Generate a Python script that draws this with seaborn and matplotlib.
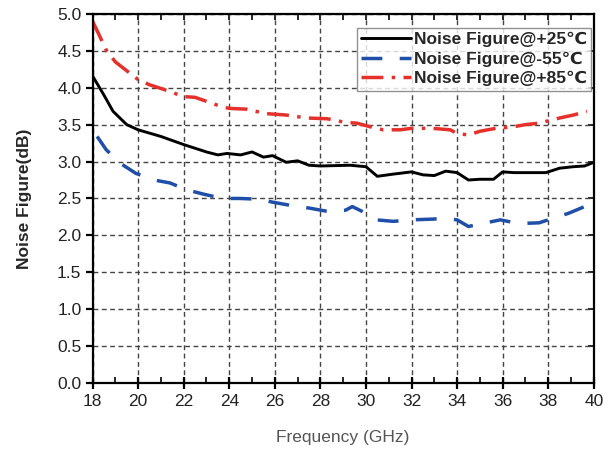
import numpy as np
import pandas as pd
import matplotlib
matplotlib.use("Agg")
import matplotlib.pyplot as plt
from matplotlib.ticker import MultipleLocator, FormatStrFormatter
import seaborn as sns

# Measured noise figure vs frequency at three temperatures
freq_25 = [18.0, 18.5, 18.9, 19.5, 20.0, 21.0, 22.0, 23.0, 23.5, 23.9, 24.5, 25.0,
           25.5, 25.9, 26.5, 27.0, 27.5, 28.0, 29.3, 30.0, 30.5, 31.2, 32.0, 32.5,
           33.0, 33.5, 34.0, 34.5, 35.0, 35.6, 36.0, 36.5, 37.0, 37.9, 38.5, 39.1,
           39.6, 40.0]
nf_25 = [4.16, 3.90, 3.68, 3.50, 3.43, 3.34, 3.23, 3.13, 3.09, 3.11, 3.09, 3.13,
         3.06, 3.08, 2.99, 3.01, 2.95, 2.94, 2.95, 2.93, 2.80, 2.83, 2.86, 2.82,
         2.81, 2.87, 2.85, 2.75, 2.76, 2.76, 2.86, 2.85, 2.85, 2.85, 2.91, 2.93,
         2.94, 2.99]

freq_m55 = [18.2, 18.6, 19.2, 19.9, 20.7, 21.4, 22.1, 22.85, 23.7, 24.45, 25.3,
            25.9, 26.8, 27.5, 28.4, 29.1, 29.4, 30.0, 30.45, 31.2, 32.0, 32.9,
            33.5, 34.0, 34.5, 35.1, 35.9, 36.7, 37.6, 38.2, 38.9, 39.6, 40.0]
nf_m55 = [3.34, 3.16, 2.98, 2.84, 2.75, 2.71, 2.62, 2.56, 2.50, 2.50, 2.49,
          2.45, 2.40, 2.37, 2.32, 2.34, 2.39, 2.30, 2.21, 2.19, 2.21, 2.22,
          2.23, 2.21, 2.12, 2.16, 2.21, 2.16, 2.17, 2.23, 2.30, 2.39, 2.44]

freq_85 = [18.0, 18.25, 18.6, 19.0, 20.0, 20.5, 21.1, 22.0, 22.5, 23.6, 24.0,
           24.75, 25.6, 26.5, 27.4, 28.3, 29.1, 29.6, 30.2, 30.75, 31.5, 32.0,
           32.9, 33.7, 34.0, 34.5, 35.0, 35.7, 36.45, 37.0, 37.6, 38.5, 39.1,
           39.7]
nf_85 = [4.90, 4.74, 4.51, 4.35, 4.11, 4.04, 3.98, 3.88, 3.87, 3.75, 3.72,
         3.71, 3.65, 3.63, 3.59, 3.58, 3.53, 3.52, 3.47, 3.43, 3.43, 3.45,
         3.45, 3.43, 3.38, 3.36, 3.41, 3.45, 3.47, 3.50, 3.52, 3.59, 3.63,
         3.68]

labels = ["Noise Figure@+25\u2103", "Noise Figure@-55\u2103", "Noise Figure@+85\u2103"]
colors = ["#000000", "#1f4fa8", "#e5302b"]

sns.set_style("white")
plt.rcParams["font.family"] = ["Liberation Sans", "DejaVu Sans"]

fig = plt.figure(figsize=(6.09, 4.49), dpi=100)
ax = fig.add_axes([0.152, 0.147, 0.823, 0.822])

sns.lineplot(x=freq_25, y=nf_25, ax=ax, color=colors[0], lw=2.1,
             label=labels[0], linestyle="-")
sns.lineplot(x=freq_m55, y=nf_m55, ax=ax, color=colors[1], lw=2.5,
             label=labels[1], linestyle=(0, (6, 5)))
sns.lineplot(x=freq_85, y=nf_85, ax=ax, color=colors[2], lw=2.5,
             label=labels[2], linestyle=(0, (6.3, 2.4, 1, 2.4)))

ax.set_xlim(18, 40)
ax.set_ylim(0, 5)
ax.xaxis.set_major_locator(MultipleLocator(2))
ax.xaxis.set_minor_locator(MultipleLocator(1))
ax.yaxis.set_major_locator(MultipleLocator(0.5))
ax.yaxis.set_major_formatter(FormatStrFormatter("%.1f"))

ax.grid(True, which="major", color="#444444", linestyle=(0, (3.5, 2.5)), lw=1.0)
ax.set_axisbelow(True)

for s in ax.spines.values():
    s.set_visible(True)
    s.set_color("black")
    s.set_linewidth(1.6)

ax.tick_params(axis="x", which="major", direction="inout", length=8, width=1.6,
               labelsize=12.5, pad=4, colors="black", labelcolor="#222222",
               bottom=True, top=False)
ax.tick_params(axis="x", which="minor", direction="in", length=4, width=1.4,
               bottom=True, top=False)
ax.tick_params(axis="y", which="major", direction="out", length=5, width=1.6,
               labelsize=12.5, pad=3, colors="black", labelcolor="#222222",
               left=True, right=False)

top = ax.secondary_xaxis("top")
top.set_xticks(np.arange(18, 41, 1))
top.tick_params(direction="in", length=4, width=1.4, labeltop=False)
top.spines["top"].set_visible(False)
right = ax.secondary_yaxis("right")
right.set_yticks(np.arange(0, 5.01, 0.5))
right.tick_params(direction="in", length=4, width=1.4, labelright=False)
right.spines["right"].set_visible(False)

ax.set_xlabel("Frequency (GHz)", fontsize=12.5, color="#555555", labelpad=15)
ax.set_ylabel("Noise Figure(dB)", fontsize=12.5, fontweight="bold", labelpad=18)

leg = ax.legend(loc="upper right", bbox_to_anchor=(0.995, 0.963),
                prop={"weight": "bold", "size": 12.5}, frameon=True,
                fancybox=False, shadow=False, handlelength=2.9,
                handletextpad=0.15, labelspacing=0.25, borderpad=0.25,
                borderaxespad=0.0)
leg.get_frame().set_edgecolor("#777777")
leg.get_frame().set_linewidth(1.0)

fig.savefig("out.png", dpi=100)
